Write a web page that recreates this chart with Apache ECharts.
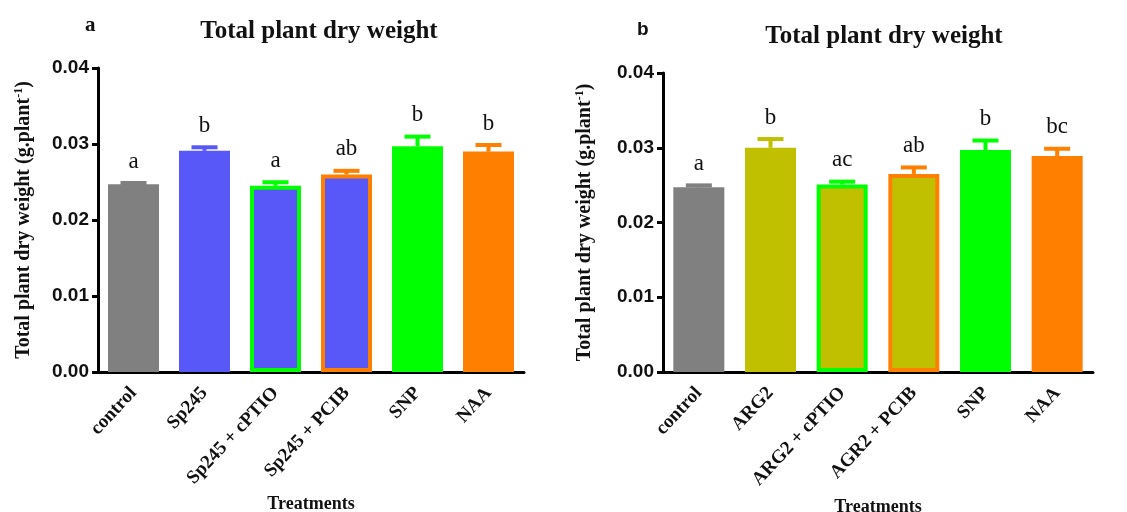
<!DOCTYPE html>
<html>
<head>
<meta charset="utf-8">
<script src="https://cdn.jsdelivr.net/npm/echarts@6/dist/echarts.min.js"></script>
<style>
  html, body { margin: 0; padding: 0; background: #fff; }
  #chart { width: 1127px; height: 512px; }
</style>
</head>
<body>
<div id="chart"></div>
<script>
// panel a
var categoriesA = ['control', 'Sp245', 'Sp245 + cPTIO', 'Sp245 + PCIB', 'SNP', 'NAA'];
var meansA = [0.0247, 0.0291, 0.0245, 0.0260, 0.0297, 0.0290];
var errTopA = [0.0250, 0.0297, 0.0251, 0.0266, 0.0311, 0.0300];
var lettersA = ['a', 'b', 'a', 'ab', 'b', 'b'];

// panel b
var categoriesB = ['control', 'ARG2', 'ARG2 + cPTIO', 'AGR2 + PCIB', 'SNP', 'NAA'];
var meansB = [0.0247, 0.0300, 0.0251, 0.0265, 0.0297, 0.0289];
var errTopB = [0.0251, 0.0313, 0.0256, 0.0275, 0.0311, 0.0300];
var lettersB = ['a', 'b', 'ac', 'ab', 'b', 'bc'];

var GRAY = '#808080', BLUE = '#5858f8', GREEN = '#00ff00', ORANGE = '#ff8000', OLIVE = '#c0c000';
var fillA = [GRAY, BLUE, BLUE, BLUE, GREEN, ORANGE];
var edgeA = [GRAY, BLUE, GREEN, ORANGE, GREEN, ORANGE];
var fillB = [GRAY, OLIVE, OLIVE, OLIVE, GREEN, ORANGE];
var edgeB = [GRAY, OLIVE, GREEN, ORANGE, GREEN, ORANGE];

var serif = 'Liberation Serif';
var sans = 'Liberation Sans';

function barData(means, fills, edges) {
  return means.map(function (v, i) {
    var bordered = fills[i] !== edges[i];
    return {
      value: v,
      itemStyle: { color: fills[i], borderColor: edges[i], borderWidth: bordered ? 4 : 0 }
    };
  });
}

function errData(means, tops, letters) {
  return means.map(function (v, i) { return [i, v, tops[i], letters[i]]; });
}

function errRender(edges) {
  return function (params, api) {
    var i = api.value(0);
    var p0 = api.coord([i, api.value(1)]);
    var p1 = api.coord([i, api.value(2)]);
    var c = edges[params.dataIndex];
    return {
      type: 'group',
      children: [
        { type: 'line', shape: { x1: p0[0], y1: p0[1], x2: p1[0], y2: p1[1] },
          style: { stroke: c, lineWidth: 4 } },
        { type: 'line', shape: { x1: p1[0] - 13, y1: p1[1] + 1, x2: p1[0] + 13, y2: p1[1] + 1 },
          style: { stroke: c, lineWidth: 4 } },
        { type: 'text', x: p1[0], y: p1[1] - 9,
          style: { text: api.value(3), fill: '#111', font: '23px "' + serif + '"',
                   align: 'center', verticalAlign: 'bottom' } }
      ]
    };
  };
}

function xAxisCfg(cats, grid, gap) {
  return {
    type: 'category', gridIndex: grid, data: cats,
    name: 'Treatments', nameLocation: 'middle', nameGap: gap,
    nameTextStyle: { fontFamily: serif, fontWeight: 'bold', fontSize: 18, color: '#111' },
    axisLine: { lineStyle: { color: '#000', width: 3 } },
    axisTick: { alignWithLabel: true, length: 7, lineStyle: { width: 3, color: '#000' } },
    axisLabel: { rotate: 47, margin: 18, fontFamily: serif, fontWeight: 'bold', fontSize: 19, color: '#111' }
  };
}

function yAxisCfg(grid, gap) {
  return {
    type: 'value', gridIndex: grid, min: 0, max: 0.04, interval: 0.01,
    name: '{n|Total plant dry weight (g.plant}{s|-1}{n|)}',
    nameLocation: 'middle', nameGap: gap, nameRotate: 90,
    nameTextStyle: {
      rich: {
        n: { fontFamily: serif, fontWeight: 'bold', fontSize: 20, color: '#111' },
        s: { fontFamily: serif, fontWeight: 'bold', fontSize: 12, color: '#111', verticalAlign: 'top', padding: [0, 0, 10, 0] }
      }
    },
    splitLine: { show: false },
    axisLine: { show: true, lineStyle: { color: '#000', width: 3 } },
    axisTick: { show: true, length: 6, lineStyle: { width: 3, color: '#000' } },
    axisLabel: {
      margin: 9, fontFamily: sans, fontWeight: 'bold', fontSize: 19, color: '#111',
      formatter: function (v) { return v.toFixed(2); }
    }
  };
}

var chart = echarts.init(document.getElementById('chart'), null, { renderer: 'canvas' });

chart.setOption({
  animation: false,
  backgroundColor: '#fff',
  title: [
    { text: 'Total plant dry weight', left: 314, top: 14, textAlign: 'center',
      textStyle: { fontFamily: serif, fontWeight: 'bold', fontSize: 25, color: '#111' } },
    { text: 'Total plant dry weight', left: 879, top: 19, textAlign: 'center',
      textStyle: { fontFamily: serif, fontWeight: 'bold', fontSize: 25, color: '#111' } },
    { text: 'a', left: 80, top: 10,
      textStyle: { fontFamily: serif, fontWeight: 'bold', fontSize: 21, color: '#111' } },
    { text: 'b', left: 632, top: 15,
      textStyle: { fontFamily: sans, fontWeight: 'bold', fontSize: 19, color: '#111' } }
  ],
  grid: [
    { left: 98, top: 68, width: 426, height: 304, outerBoundsMode: 'none' },
    { left: 663, top: 73, width: 430, height: 299, outerBoundsMode: 'none' }
  ],
  xAxis: [xAxisCfg(categoriesA, 0, 122), xAxisCfg(categoriesB, 1, 126)],
  yAxis: [yAxisCfg(0, 63), yAxisCfg(1, 67)],
  series: [
    { type: 'bar', xAxisIndex: 0, yAxisIndex: 0, barWidth: 51,
      data: barData(meansA, fillA, edgeA) },
    { type: 'custom', xAxisIndex: 0, yAxisIndex: 0, renderItem: errRender(edgeA),
      data: errData(meansA, errTopA, lettersA), z: 3 },
    { type: 'bar', xAxisIndex: 1, yAxisIndex: 1, barWidth: 51,
      data: barData(meansB, fillB, edgeB) },
    { type: 'custom', xAxisIndex: 1, yAxisIndex: 1, renderItem: errRender(edgeB),
      data: errData(meansB, errTopB, lettersB), z: 3 }
  ]
});
</script>
</body>
</html>
